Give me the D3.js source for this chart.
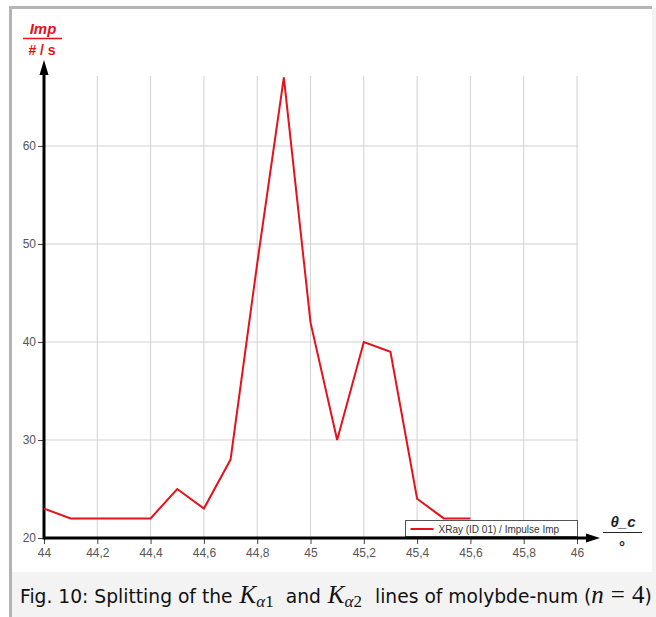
<!DOCTYPE html>
<html lang="en">
<head>
  <meta charset="UTF-8" />
  <title>Splitting of the K alpha lines</title>
  <script src="https://d3js.org/d3.v7.min.js"></script>
  <style>
    body {
      margin: 0;
      background: white;
    }
    svg {
      display: block;
    }
  </style>
</head>
<body>
  <svg id="chart" width="656" height="617"></svg>
  <script>
    // angle in degrees, impulse rate in #/s
    const angles = [44, 44.1, 44.2, 44.3, 44.4, 44.5, 44.6, 44.7, 44.8, 44.9,
      45, 45.1, 45.2, 45.3, 45.4, 45.5, 45.6];
    const rates = [23, 22, 22, 22, 22, 25, 23, 28, 48, 67, 42, 30, 40, 39, 24, 22, 22];
    const xTicks = [44, 44.2, 44.4, 44.6, 44.8, 45, 45.2, 45.4, 45.6, 45.8, 46];
    const yTicks = [20, 30, 40, 50, 60];
    const seriesName = 'XRay (ID 01) / Impulse Imp';

    const svg = d3.select('#chart');
    const red = '#e5121b';
    const sans = 'Arial, "Liberation Sans", sans-serif';

    // frame and caption panel
    svg.append('rect')
      .attr('x', 11).attr('y', 572).attr('width', 645).attr('height', 45)
      .attr('fill', '#f3f3f3');
    svg.append('rect')
      .attr('x', 652).attr('y', 8).attr('width', 4).attr('height', 564)
      .attr('fill', '#f3f3f3');
    svg.append('rect')
      .attr('x', 9).attr('y', 6).attr('width', 3).attr('height', 611)
      .attr('fill', '#b4b4b4');
    svg.append('rect')
      .attr('x', 9).attr('y', 6).attr('width', 643).attr('height', 3)
      .attr('fill', '#b4b4b4');

    const x = d3.scaleLinear().domain([44, 46]).range([44, 577]);
    const y = d3.scaleLinear().domain([20, 67.14]).range([538, 76]);
    const fmt = d => String(+d.toFixed(1)).replace('.', ',');

    // grid
    svg.append('g')
      .selectAll('line')
      .data(xTicks.slice(1))
      .join('line')
      .attr('x1', d => x(d)).attr('x2', d => x(d))
      .attr('y1', y.range()[1]).attr('y2', y(20))
      .attr('stroke', '#d2d2d2')
      .attr('stroke-width', 1);

    svg.append('g')
      .selectAll('line')
      .data(yTicks.slice(1))
      .join('line')
      .attr('x1', x(44)).attr('x2', x(46) + 1)
      .attr('y1', d => y(d)).attr('y2', d => y(d))
      .attr('stroke', '#d2d2d2')
      .attr('stroke-width', 1);

    // axes
    const xAxis = svg.append('g')
      .attr('transform', `translate(0,${y(20)})`)
      .call(d3.axisBottom(x).tickValues(xTicks).tickFormat(fmt).tickSize(6).tickPadding(4));
    xAxis.select('.domain').remove();
    xAxis.selectAll('.tick line').attr('stroke', '#444');
    xAxis.selectAll('.tick text')
      .attr('font-family', sans).attr('font-size', '12px').attr('fill', '#555');

    const yAxis = svg.append('g')
      .attr('transform', `translate(${x(44)},0)`)
      .call(d3.axisLeft(y).tickValues(yTicks).tickSize(6).tickPadding(2));
    yAxis.select('.domain').remove();
    yAxis.selectAll('.tick line').attr('stroke', '#444');
    yAxis.selectAll('.tick text')
      .attr('font-family', sans).attr('font-size', '12px').attr('fill', '#555');

    // legend (below the series line)
    const legend = svg.append('g').attr('transform', 'translate(405.5,520.5)');
    legend.append('rect')
      .attr('width', 172).attr('height', 16)
      .attr('fill', 'white')
      .attr('stroke', '#555')
      .attr('stroke-width', 1);
    legend.append('line')
      .attr('x1', 5).attr('x2', 28)
      .attr('y1', 8.5).attr('y2', 8.5)
      .attr('stroke', red).attr('stroke-width', 2);
    legend.append('text')
      .attr('x', 33).attr('y', 12)
      .attr('font-family', sans)
      .attr('font-size', '10px')
      .attr('fill', '#333')
      .text(seriesName);

    // axis lines with arrows
    svg.append('line')
      .attr('x1', x(44)).attr('x2', 590)
      .attr('y1', y(20)).attr('y2', y(20))
      .attr('stroke', '#000').attr('stroke-width', 3);
    svg.append('path')
      .attr('d', `M600,${y(20)} L586,${y(20) - 4.5} L586,${y(20) + 4.5} Z`)
      .attr('fill', '#000');

    svg.append('line')
      .attr('x1', x(44)).attr('x2', x(44))
      .attr('y1', y(20) + 1.5).attr('y2', 72)
      .attr('stroke', '#000').attr('stroke-width', 3);
    svg.append('path')
      .attr('d', `M${x(44)},60 L${x(44) - 4.5},75 L${x(44) + 4.5},75 Z`)
      .attr('fill', '#000');

    // series line
    const line = d3.line()
      .x((d, i) => x(angles[i]))
      .y(d => y(d));

    svg.append('path')
      .datum(rates)
      .attr('d', line)
      .attr('fill', 'none')
      .attr('stroke', red)
      .attr('stroke-width', 2)
      .attr('stroke-linejoin', 'miter');

    // y axis title
    svg.append('text')
      .attr('x', 43).attr('y', 34)
      .attr('text-anchor', 'middle')
      .attr('font-family', sans)
      .attr('font-size', '15px')
      .attr('font-weight', 'bold')
      .attr('font-style', 'italic')
      .attr('fill', red)
      .text('Imp');
    svg.append('line')
      .attr('x1', 23).attr('x2', 62)
      .attr('y1', 38.5).attr('y2', 38.5)
      .attr('stroke', red).attr('stroke-width', 1.5);
    svg.append('text')
      .attr('x', 42).attr('y', 55)
      .attr('text-anchor', 'middle')
      .attr('font-family', sans)
      .attr('font-size', '14px')
      .attr('font-weight', 'bold')
      .attr('fill', red)
      .text('# / s');

    // x axis title
    svg.append('text')
      .attr('x', 623).attr('y', 527)
      .attr('text-anchor', 'middle')
      .attr('font-family', sans)
      .attr('font-size', '15px')
      .attr('font-weight', 'bold')
      .attr('font-style', 'italic')
      .attr('fill', '#222')
      .text('θ_c');
    svg.append('line')
      .attr('x1', 603).attr('x2', 642)
      .attr('y1', 532.5).attr('y2', 532.5)
      .attr('stroke', '#222').attr('stroke-width', 1.2);
    svg.append('text')
      .attr('x', 622).attr('y', 552)
      .attr('text-anchor', 'middle')
      .attr('font-family', sans)
      .attr('font-size', '15px')
      .attr('font-weight', 'bold')
      .attr('fill', '#222')
      .text('°');

    // caption
    const cap = svg.append('text')
      .attr('x', 20).attr('y', 603)
      .attr('font-family', '"DejaVu Sans", Verdana, sans-serif')
      .attr('font-size', '18.7px')
      .attr('fill', '#111');
    const serif = '"Liberation Serif", "DejaVu Serif", serif';
    const mathK = (sub) => {
      cap.append('tspan').attr('font-family', serif).attr('font-style', 'italic').attr('font-size', '25px').attr('dx', 7).text('K');
      cap.append('tspan').attr('font-family', serif).attr('font-style', 'italic').attr('font-size', '17px').attr('dy', 4).text('α');
      cap.append('tspan').attr('font-family', serif).attr('font-size', '17px').text(sub);
    };
    cap.append('tspan').text('Fig. 10: Splitting of the');
    mathK('1');
    cap.append('tspan').attr('dy', -4).attr('dx', 12).text('and');
    mathK('2');
    cap.append('tspan').attr('dy', -4).attr('dx', 13).text('lines of molybde-num (');
    cap.append('tspan').attr('font-family', serif).attr('font-style', 'italic').attr('font-size', '25px').text('n');
    cap.append('tspan').attr('font-family', serif).attr('font-size', '25px').attr('dx', 7).text('=');
    cap.append('tspan').attr('font-family', serif).attr('font-size', '25px').attr('dx', 7).text('4');
    cap.append('tspan').text(')');
  </script>
</body>
</html>
